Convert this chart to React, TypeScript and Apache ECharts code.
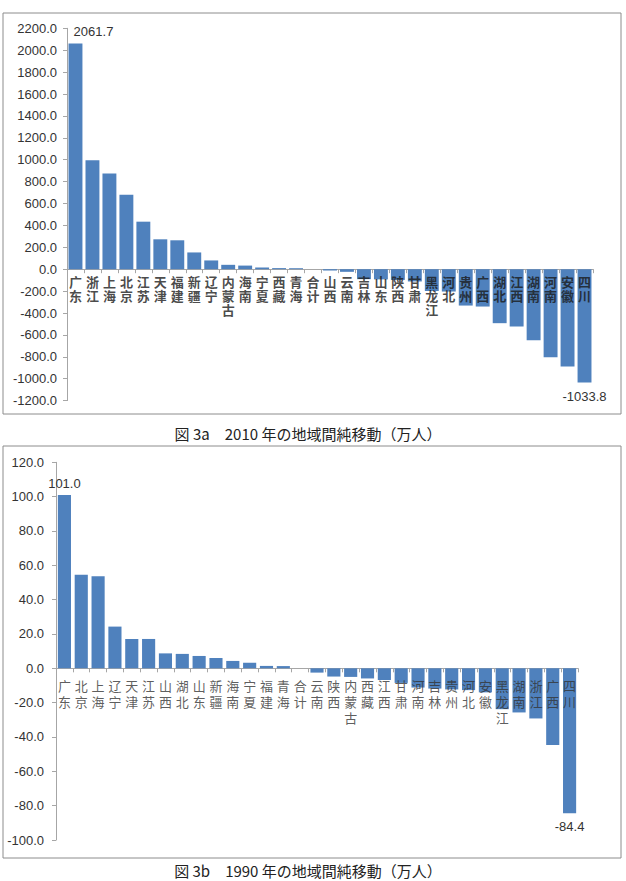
import React, { useEffect, useRef } from "react";
import * as echarts from "echarts";

// 2010 net inter-regional migration (10k persons)
const regions2010 = ["广东", "浙江", "上海", "北京", "江苏", "天津", "福建", "新疆", "辽宁", "内蒙古", "海南", "宁夏", "西藏", "青海", "合计", "山西", "云南", "吉林", "山东", "陕西", "甘肃", "黑龙江", "河北", "贵州", "广西", "湖北", "江西", "湖南", "河南", "安徽", "四川"];
const net2010 = [2061.7, 995, 874, 680, 434, 273, 264, 153, 80, 40, 33, 16, 10, 9, 0, -12, -24, -91, -93, -98, -112, -199, -204, -332, -341, -493, -523, -649, -804, -889, -1033.8];

// 1990 net inter-regional migration (10k persons)
const regions1990 = ["广东", "北京", "上海", "辽宁", "天津", "江苏", "山西", "湖北", "山东", "新疆", "海南", "宁夏", "福建", "青海", "合计", "云南", "陕西", "内蒙古", "西藏", "江西", "甘肃", "河南", "吉林", "贵州", "河北", "安徽", "黑龙江", "湖南", "浙江", "广西", "四川"];
const net1990 = [101.0, 54.5, 53.6, 24.3, 17.1, 17.1, 8.7, 8.4, 7.2, 6.0, 4.3, 3.3, 1.4, 1.3, 0, -2.5, -4.8, -5.0, -5.9, -6.8, -8.5, -11.2, -11.8, -12.3, -12.7, -14.0, -23.8, -25.7, -29.2, -44.7, -84.4];

const caption2010 = "図 3a　2010 年の地域間純移動（万人）";
const caption1990 = "図 3b　1990 年の地域間純移動（万人）";

const BAR = "#4F81BD";
const AXIS = "#A6A6A6";
const NUM_FONT = "'Liberation Sans', Arial, sans-serif";
const CJK_FONT = "'Noto Sans CJK SC', sans-serif";

function labelled(values: number[], first: any, last: any) {
  return values.map((v, i) => {
    if (i === 0) return { value: v, label: first };
    if (i === values.length - 1) return { value: v, label: last };
    return v;
  });
}

// Category names hang just below the zero line, one character per line.
function nameSeries(cats: string[], axisIdx: number, label: any) {
  return {
    type: "scatter",
    xAxisIndex: axisIdx,
    yAxisIndex: axisIdx,
    silent: true,
    symbolSize: 0,
    z: 5,
    data: cats.map((name) => ({ name, value: 0 })),
    label: {
      show: true,
      position: "bottom",
      align: "center",
      verticalAlign: "top",
      ...label,
      formatter: (p: any) => String(p.name).split("").join("\n"),
    },
  };
}

export default function App() {
  const ref = useRef<HTMLDivElement>(null);

  useEffect(() => {
    if (!ref.current) return;
    const chart = echarts.init(ref.current, undefined, { renderer: "svg" });

    const numLabel = { fontFamily: NUM_FONT, fontSize: 13, color: "#333" };

    const yAxisBase = (min: number, max: number, interval: number, margin: number) => ({
      type: "value",
      min,
      max,
      interval,
      splitLine: { show: false },
      axisLine: { show: true, lineStyle: { color: AXIS } },
      axisTick: { show: true, length: 4, lineStyle: { color: AXIS } },
      axisLabel: {
        margin,
        fontFamily: NUM_FONT,
        fontSize: 13,
        color: "#333",
        formatter: (v: number) => v.toFixed(1),
      },
    });

    const xAxisBase = (cats: string[]) => ({
      type: "category",
      data: cats,
      axisLine: { show: true, onZero: true, lineStyle: { color: AXIS } },
      axisTick: { show: true, length: 4, interval: 0, lineStyle: { color: AXIS } },
      axisLabel: { show: false },
    });

    chart.setOption({
      animation: false,
      backgroundColor: "#fff",
      graphic: [
        { type: "rect", z: -10, shape: { x: 3, y: 13, width: 618, height: 401 }, style: { fill: "#fff", stroke: "#8C8C8C", lineWidth: 1 } },
        { type: "rect", z: -10, shape: { x: 3, y: 446, width: 618, height: 412 }, style: { fill: "#fff", stroke: "#8C8C8C", lineWidth: 1 } },
        { type: "text", x: 308, y: 433, style: { text: caption2010, fill: "#222", font: "15px 'Noto Sans CJK JP', sans-serif", align: "center", verticalAlign: "middle" } },
        { type: "text", x: 308, y: 870, style: { text: caption1990, fill: "#222", font: "15px 'Noto Sans CJK JP', sans-serif", align: "center", verticalAlign: "middle" } },
      ],
      grid: [
        { left: 67, top: 28.3, width: 526, height: 372.3, containLabel: false },
        { left: 56, top: 462.3, width: 522, height: 377.7, containLabel: false },
      ],
      xAxis: [
        { gridIndex: 0, ...xAxisBase(regions2010) },
        { gridIndex: 1, ...xAxisBase(regions1990) },
      ],
      yAxis: [
        { gridIndex: 0, ...yAxisBase(-1200, 2200, 200, 10) },
        { gridIndex: 1, ...yAxisBase(-100, 120, 20, 12) },
      ],
      series: [
        {
          type: "bar",
          xAxisIndex: 0,
          yAxisIndex: 0,
          barCategoryGap: "18%",
          itemStyle: { color: BAR },
          data: labelled(
            net2010,
            { show: true, position: "top", offset: [18, 0], ...numLabel, formatter: (p: any) => p.value.toFixed(1) },
            { show: true, position: "bottom", offset: [0, 3], ...numLabel, formatter: (p: any) => p.value.toFixed(1) }
          ),
        },
        {
          type: "bar",
          xAxisIndex: 1,
          yAxisIndex: 1,
          barCategoryGap: "22%",
          itemStyle: { color: BAR },
          data: labelled(
            net1990,
            { show: true, position: "top", ...numLabel, formatter: (p: any) => p.value.toFixed(1) },
            { show: true, position: "bottom", offset: [0, 2], ...numLabel, formatter: (p: any) => p.value.toFixed(1) }
          ),
        },
        nameSeries(regions2010, 0, { distance: 5, fontFamily: CJK_FONT, fontSize: 13, lineHeight: 14, color: "#1a1a1a", fontWeight: "bold" }),
        nameSeries(regions1990, 1, { distance: 9, fontFamily: CJK_FONT, fontSize: 13, lineHeight: 16, color: "#333", fontWeight: "normal" }),
      ],
    });

    return () => chart.dispose();
  }, []);

  return (
    <div
      ref={ref}
      style={{ position: "absolute", left: 0, top: 0, width: 626, height: 881 }}
    />
  );
}
